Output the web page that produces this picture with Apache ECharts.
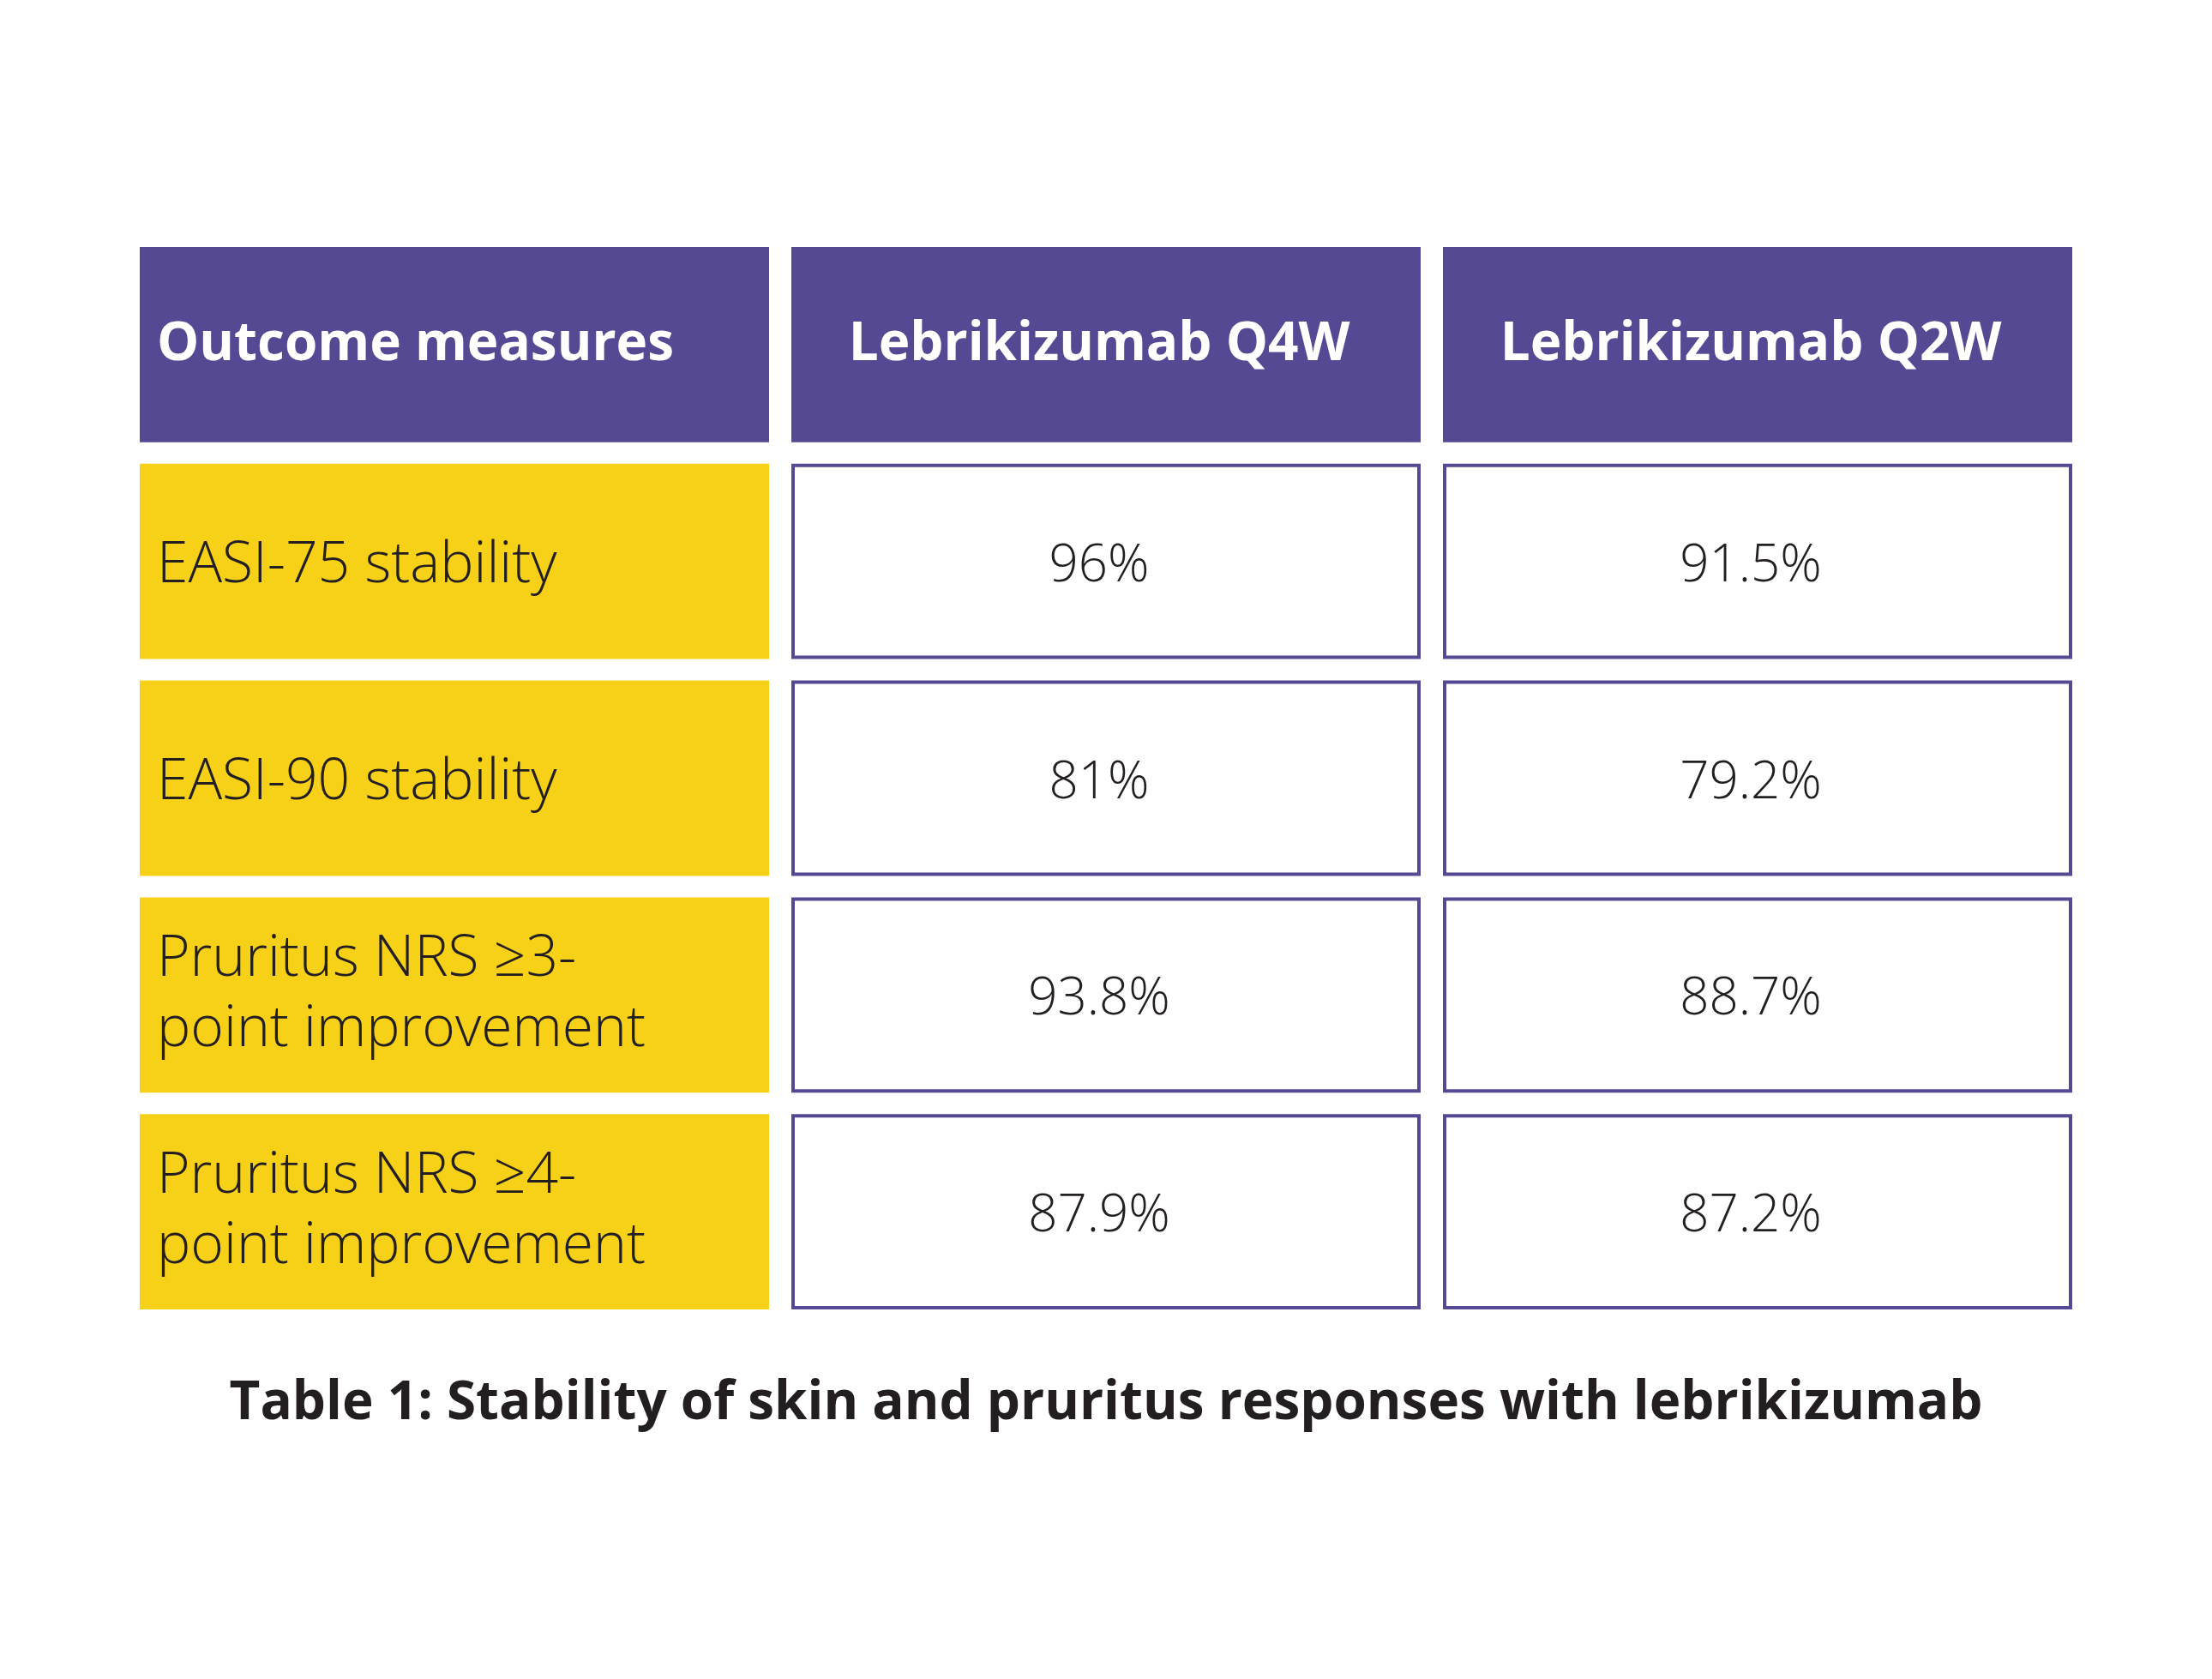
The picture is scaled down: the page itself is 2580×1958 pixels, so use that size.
<!DOCTYPE html>
<html lang="en">
<head>
    <meta charset="UTF-8">
    <title>Stability of skin and pruritus responses with lebrikizumab</title>
    <script src="https://cdn.jsdelivr.net/npm/echarts@6/dist/echarts.min.js"></script>
    <style>
        body, html {
            margin: 0;
            padding: 0;
            width: 100%;
            height: 100%;
            overflow: hidden;
            background-color: #fff;
        }
        #container {
            width: 2580px;
            height: 1958px;
        }
    </style>
</head>
<body>
    <div id="container"></div>
    <script>
        // table content
        var columns = ['Outcome measures', 'Lebrikizumab Q4W', 'Lebrikizumab Q2W'];
        var outcomes = [
            'EASI-75 stability',
            'EASI-90 stability',
            'Pruritus NRS \u22653-\npoint improvement',
            'Pruritus NRS \u22654-\npoint improvement'
        ];
        var q4w = [96, 81, 93.8, 87.9];
        var q2w = [91.5, 79.2, 88.7, 87.2];
        var caption = 'Table 1: Stability of skin and pruritus responses with lebrikizumab';

        var PURPLE = '#554994';
        var YELLOW = '#f7d117';
        var INK = '#231f20';
        var FONT = '"Open Sans", Lato, sans-serif';

        var rows = ['header'].concat(outcomes);

        // one data item per cell: [colIndex, rowIndex, text, kind]
        var cells = [];
        columns.forEach(function (c, i) {
            cells.push([i, 0, c, 'head']);
        });
        outcomes.forEach(function (o, r) {
            cells.push([0, r + 1, o, 'label']);
            cells.push([1, r + 1, q4w[r] + '%', 'value']);
            cells.push([2, r + 1, q2w[r] + '%', 'value']);
        });

        var GAP_X = 26;
        var GAP_Y = 25;

        function renderCell(params, api) {
            var center = api.coord([api.value(0), api.value(1)]);
            var band = api.size([1, 1]);
            var w = band[0] - GAP_X;
            var h = band[1] - GAP_Y;
            var x = center[0] - w / 2;
            var y = center[1] - h / 2;
            var item = cells[params.dataIndex];
            var kind = item[3];
            var text = item[2];

            var rect;
            if (kind === 'head') {
                rect = { type: 'rect', shape: { x: x, y: y, width: w, height: h }, style: { fill: PURPLE } };
            } else if (kind === 'label') {
                rect = { type: 'rect', shape: { x: x, y: y, width: w, height: h }, style: { fill: YELLOW } };
            } else {
                rect = {
                    type: 'rect',
                    shape: { x: x + 2, y: y + 2, width: w - 4, height: h - 4 },
                    style: { fill: '#fff', stroke: PURPLE, lineWidth: 4 }
                };
            }

            var leftAlign = item[0] === 0;
            var font = kind === 'head' ? 'bold 62px ' : (kind === 'value' ? '300 60px ' : '300 66px ');
            // single-line body text sits a touch low in the original
            var dy = (kind === 'head' || text.indexOf('\n') >= 0) ? 0 : 6;
            var label = {
                type: 'text',
                x: leftAlign ? x + 20 : center[0] - 8,
                y: center[1] + dy,
                style: {
                    text: text,
                    fill: kind === 'head' ? '#fff' : INK,
                    font: font + FONT,
                    align: leftAlign ? 'left' : 'center',
                    verticalAlign: 'middle',
                    lineHeight: 82
                }
            };
            return { type: 'group', children: [rect, label] };
        }

        var option = {
            backgroundColor: '#fff',
            animation: false,
            title: {
                text: caption,
                left: 'center',
                top: 1601,
                textStyle: {
                    fontFamily: FONT,
                    fontWeight: 'bold',
                    fontSize: 62,
                    color: INK
                }
            },
            grid: {
                left: 150,
                right: 150,
                top: 275.5,
                bottom: 418.5
            },
            xAxis: {
                type: 'category',
                data: columns,
                show: false
            },
            yAxis: {
                type: 'category',
                data: rows,
                inverse: true,
                show: false
            },
            series: [{
                type: 'custom',
                renderItem: renderCell,
                encode: { x: 0, y: 1 },
                data: cells.map(function (c) { return [c[0], c[1]]; })
            }]
        };

        var chart = echarts.init(document.getElementById('container'));
        chart.setOption(option);
    </script>
</body>
</html>
